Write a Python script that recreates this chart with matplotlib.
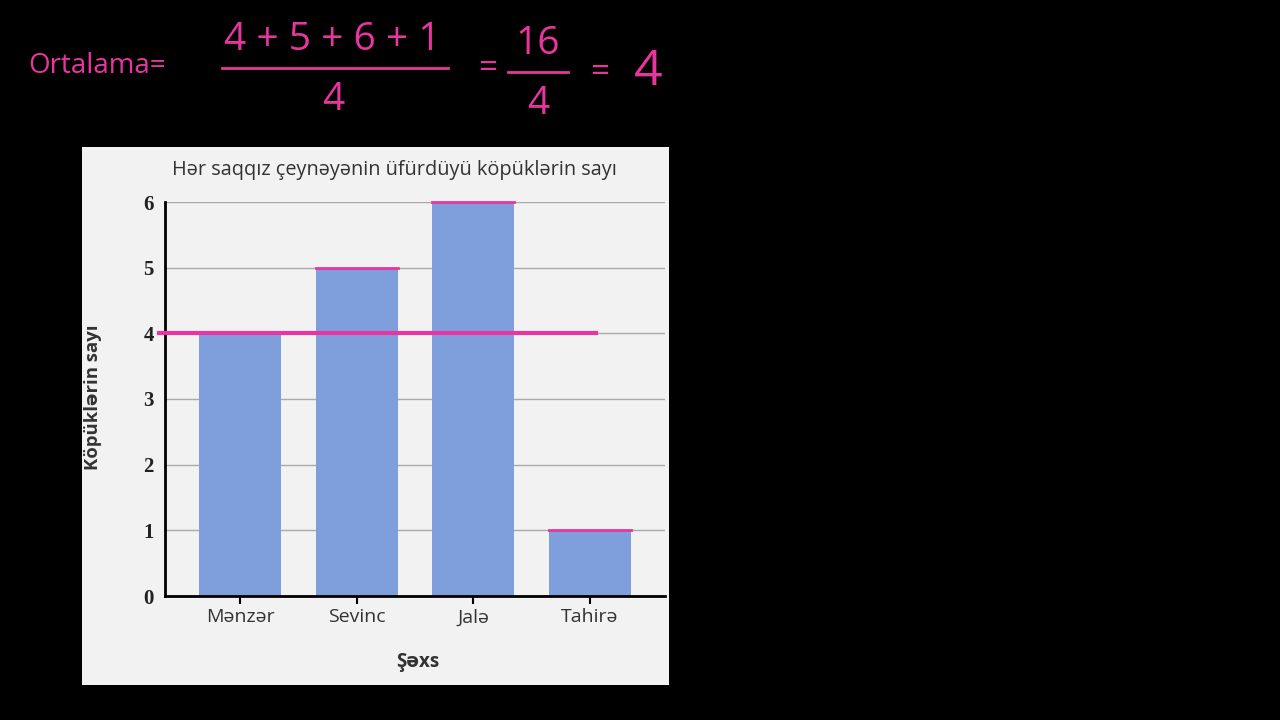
import matplotlib
matplotlib.use("Agg")
import matplotlib.pyplot as plt
from matplotlib.patches import Rectangle

names = ["Mənzər", "Sevinc", "Jalə", "Tahirə"]
bubbles = [4, 5, 6, 1]
yticks = [0, 1, 2, 3, 4, 5, 6]
mean_val = sum(bubbles) / len(bubbles)

PINK = "#e8359f"
BAR = "#7f9fdc"
PANEL = "#f2f2f2"

plt.rcParams['font.family'] = ['Open Sans', 'DejaVu Sans']

fig = plt.figure(figsize=(12.8, 7.2), dpi=100, facecolor="black")

# light panel behind the chart
fig.patches.append(Rectangle((82/1280, 1-685/720), (669-82)/1280, (685-147)/720,
                             transform=fig.transFigure, facecolor=PANEL,
                             edgecolor="none", zorder=-5))

ax = fig.add_axes([165/1280, 1-596/720, 500/1280, 394/720])
ax.set_zorder(2)
ax.set_facecolor(PANEL)
x = list(range(len(names)))
ax.bar(x, bubbles, width=0.7, color=BAR, zorder=2)
ax.set_xlim(-0.645, 3.645)
ax.set_ylim(0, 6)
ax.set_yticks(yticks)
ax.set_yticklabels([str(v) for v in yticks], family="Liberation Serif", fontsize=15,
                   fontweight="bold", color="#222222")
ax.set_xticks(x)
ax.set_xticklabels(names, fontsize=14, color="#333333")
ax.tick_params(axis="y", length=0, pad=8)
ax.tick_params(axis="x", length=6, width=1.5, direction="out", pad=3)
ax.grid(axis="y", color="#aaaaaa", linewidth=1, zorder=1)
ax.set_axisbelow(True)
for s in ["top", "right"]:
    ax.spines[s].set_visible(False)
for s in ["left", "bottom"]:
    ax.spines[s].set_linewidth(2)
    ax.spines[s].set_color("black")
    ax.spines[s].set_zorder(3)

# pink annotations: bar tops and mean line
for xi, v in zip(x, bubbles):
    ax.plot([xi - 0.35, xi + 0.35], [v, v], color=PINK, lw=2, zorder=4, clip_on=False)
ax.plot([-0.7, 3.05], [mean_val, mean_val], color=PINK, lw=3, zorder=4, clip_on=False)

fig.text(394/1280, 1-170/720, "Hər saqqız çeynəyənin üfürdüyü köpüklərin sayı",
         ha="center", va="center", fontsize=14.3, color="#333333")
fig.text(93/1280, 1-397/720, "Köpüklərin sayı", rotation=90, ha="center", va="center",
         fontsize=13.3, fontweight="bold", color="#333333")
fig.text(418/1280, 1-662/720, "Şəxs", ha="center", va="center",
         fontsize=13.5, fontweight="bold", color="#333333")

# handwritten-style formula
fig.text(28/1280, 1-66/720, "Ortalama=", ha="left", va="center", fontsize=20, color=PINK)
fig.text(332/1280, 1-40/720, "4 + 5 + 6 + 1", ha="center", va="center", fontsize=28, color=PINK)
fig.add_artist(plt.Line2D([222/1280, 448/1280], [1-68/720, 1-68/720], color=PINK, lw=2))
fig.text(333/1280, 1-100/720, "4", ha="center", va="center", fontsize=28, color=PINK)
fig.text(488/1280, 1-68/720, "=", ha="center", va="center", fontsize=24, color=PINK)
fig.text(538/1280, 1-44/720, "16", ha="center", va="center", fontsize=28, color=PINK)
fig.add_artist(plt.Line2D([508/1280, 568/1280], [1-72/720, 1-72/720], color=PINK, lw=2))
fig.text(538/1280, 1-104/720, "4", ha="center", va="center", fontsize=28, color=PINK)
fig.text(600/1280, 1-72/720, "=", ha="center", va="center", fontsize=24, color=PINK)
fig.text(648/1280, 1-72/720, "4", ha="center", va="center", fontsize=36, color=PINK)

fig.savefig("out.png", dpi=100, facecolor="black")
